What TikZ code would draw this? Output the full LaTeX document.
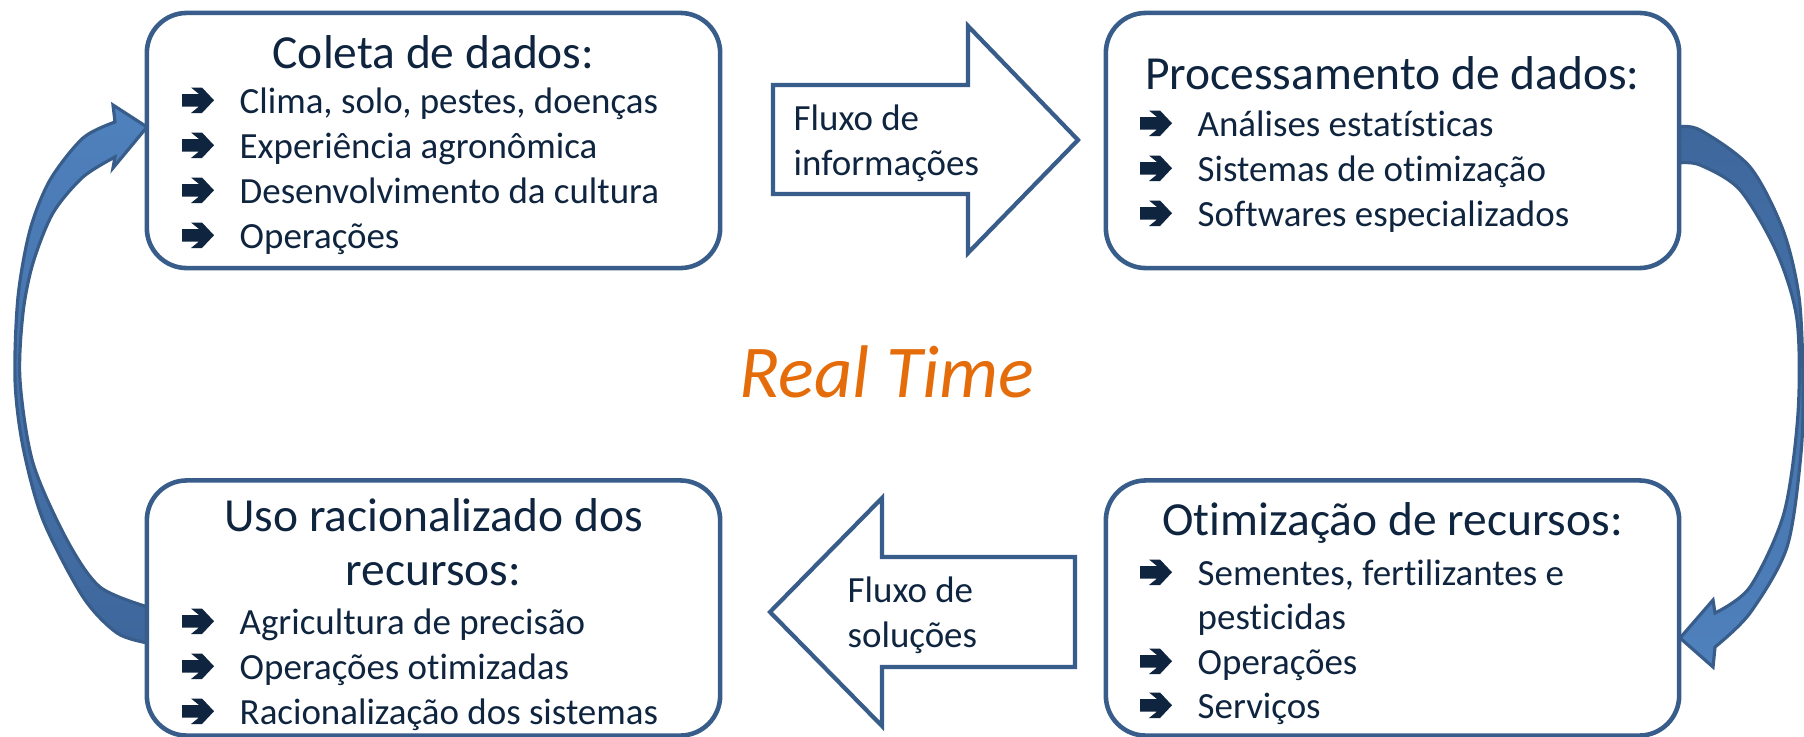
\documentclass[tikz,border=0pt]{standalone}
\usepackage{fontspec}
\setmainfont{Carlito}[RawFeature=-liga,RawFeature=-clig,RawFeature=-calt,RawFeature=-dlig,RawFeature=-rlig]
\definecolor{azul}{RGB}{56,93,138}
\definecolor{azulclaro}{RGB}{79,129,189}
\definecolor{azulescuro}{RGB}{62,103,156}
\definecolor{marinho}{RGB}{15,36,62}
\definecolor{laranja}{RGB}{228,108,10}
\begin{document}
\begin{tikzpicture}[x=0.01cm,y=-0.01cm,line join=miter,
  caixa/.style={draw=azul,fill=white,line width=1.3pt,rounded corners=0.4cm,minimum width=5.73cm,minimum height=2.55cm,inner sep=0pt},
  bloco/.style={draw=azul,fill=white,line width=1.2pt},
  curva/.style={draw=azul,line width=0.9pt},
  titulo/.style={anchor=base,inner sep=0pt,text=marinho,font=\fontsize{13.5}{16}\selectfont},
  item/.style={anchor=base west,inner sep=0pt,text=marinho,font=\fontsize{10.5}{13}\selectfont},
  seta/.pic={\fill[marinho] (0,-19) -- (17,-19) -- (9,-25.5) -- (20,-25.5) -- (32,-12.75) -- (20,0) -- (9,0) -- (17,-6.5) -- (0,-6.5) -- cycle;}]
\useasboundingbox (0,0) rectangle (1804,736);
% setas curvas
\path[curva,top color=azulclaro,bottom color=azulescuro]
  plot[smooth] coordinates {(115,122) (83,138) (50,180) (30,230) (18,297) (15,380) (23,447) (43,520) (83,597) (117,633) (148,643)}
  -- plot[smooth] coordinates {(148,607) (100,587) (67,540) (33,463) (20,380) (23,313) (33,263) (53,213) (83,177) (115,157)}
  -- (113,168) -- (147,127) -- (113,105) -- cycle;
\path[curva,top color=azulescuro,bottom color=azulclaro]
  plot[smooth] coordinates {(1678,127) (1700,130) (1750,167) (1783,230) (1799,297) (1803,380) (1801,453) (1787,547) (1750,613) (1715,647)}
  -- (1713,667) -- (1680,638) -- (1713,600) --
  plot[smooth] coordinates {(1715,613) (1750,587) (1784,513) (1798,413) (1797,320) (1777,253) (1740,190) (1700,165) (1678,163)}
  -- cycle;
% caixas
\node[caixa] (coleta) at (433.5,140.5) {};
\node[caixa] (proc) at (1392.5,140.5) {};
\node[caixa] (uso) at (433.5,608) {};
\node[caixa] (otim) at (1392.5,608) {};
\node[titulo] (tcoleta) at (433.5,68) {Coleta de dados:};
\node[titulo] (tproc) at (1392.5,89) {Processamento de dados:};
\node[titulo] (tuso) at (433.5,531) {Uso racionalizado dos};
\node[titulo] (tuso2) at (433.5,585) {recursos:};
\node[titulo] (totim) at (1392.5,535) {Otimização de recursos:};
\foreach \y/\t [count=\i] in {113/{Clima, solo, pestes, doenças},158/Experiência agronômica,203/Desenvolvimento da cultura,248/Operações}{
  \pic at (182,\y) {seta};
  \node[item] (coleta\i) at (239,\y) {\t};
}
\foreach \y/\t [count=\i] in {136/Análises estatísticas,181/Sistemas de otimização,226/Softwares especializados}{
  \pic at (1140,\y) {seta};
  \node[item] (proc\i) at (1197,\y) {\t};
}
\foreach \y/\t [count=\i] in {634/Agricultura de precisão,679/Operações otimizadas,724/Racionalização dos sistemas}{
  \pic at (182,\y) {seta};
  \node[item] (uso\i) at (239,\y) {\t};
}
\foreach \y in {585,674,718} \pic at (1140,\y) {seta};
\foreach \y/\t [count=\i] in {585/{Sementes, fertilizantes e},629/pesticidas,674/Operações,718/Serviços}
  \node[item] (otim\i) at (1197,\y) {\t};
% setas de fluxo
\draw[bloco] (773,85) -- (968,85) -- (968,26) -- (1078,140) -- (968,253) -- (968,194) -- (773,194) -- cycle;
\draw[bloco] (1075,557) -- (882,557) -- (882,498) -- (770,612) -- (882,726) -- (882,667) -- (1075,667) -- cycle;
\node[item] (info1) at (793,130) {Fluxo de};
\node[item] (info2) at (793,175) {informações};
\node[item] (sol1) at (847,602) {Fluxo de};
\node[item] (sol2) at (847,647) {soluções};
\node[anchor=base,inner sep=0pt,text=laranja,font=\fontsize{21.2}{25}\selectfont\itshape] (tempo) at (887,397) {Real Time};
\end{tikzpicture}
\end{document}
